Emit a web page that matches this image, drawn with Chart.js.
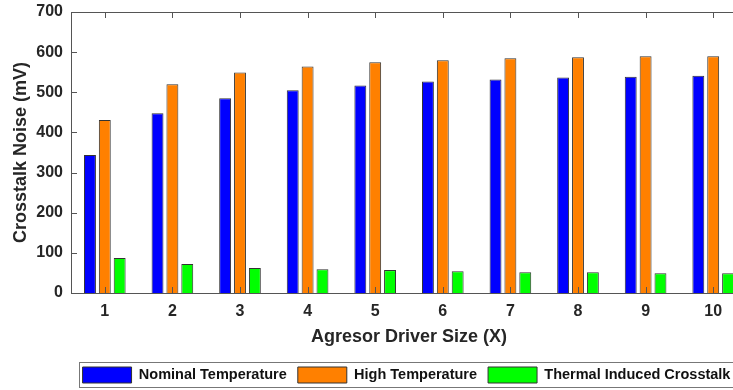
<!DOCTYPE html>
<html>
<head>
<meta charset="utf-8">
<script src="https://cdn.jsdelivr.net/npm/chart.js@4/dist/chart.umd.min.js"></script>
<style>
  html, body { margin: 0; padding: 0; overflow: hidden; background: #fff; }
  #wrap { width: 813px; height: 393px; }
</style>
</head>
<body>
<div id="wrap"><canvas id="chart" width="813" height="393"></canvas></div>
<script>
// driver sizes on the x axis
const driverSizes = ['1', '2', '3', '4', '5', '6', '7', '8', '9', '10'];

// crosstalk noise in mV
const nominalTemp = [344, 448, 485, 505, 517, 527, 532, 537, 539, 541];
const highTemp = [431, 520, 549, 564, 575, 580, 585, 587, 590, 590];
const thermalInduced = [87, 72, 62, 59, 57, 54, 52, 52, 49, 49];

const seriesNames = ['Nominal Temperature', 'High Temperature', 'Thermal Induced Crosstalk'];
const yMin = 0, yMax = 700, yStep = 100;

Chart.defaults.font.family = '"Liberation Sans", Arial, sans-serif';
Chart.defaults.color = '#262626';

const axisColor = '#555';

// matlab style box with inward ticks, drawn over the bars
const boxAxes = {
  id: 'boxAxes',
  afterDatasetsDraw(chart) {
    const {ctx, chartArea: a, scales} = chart;
    ctx.save();
    ctx.strokeStyle = axisColor;
    ctx.lineWidth = 1;
    ctx.strokeRect(a.left + 0.5, a.top + 0.5, a.right - a.left, a.bottom - a.top);
    ctx.beginPath();
    scales.x.ticks.forEach((t, i) => {
      const x = Math.round(scales.x.getPixelForTick(i)) + 0.5;
      ctx.moveTo(x, a.bottom); ctx.lineTo(x, a.bottom - 6);
      ctx.moveTo(x, a.top); ctx.lineTo(x, a.top + 6);
    });
    scales.y.ticks.forEach((t, i) => {
      const y = Math.round(scales.y.getPixelForTick(i)) + 0.5;
      ctx.moveTo(a.left, y); ctx.lineTo(a.left + 6, y);
      ctx.moveTo(a.right, y); ctx.lineTo(a.right - 6, y);
    });
    ctx.stroke();
    ctx.restore();
  },
  afterDraw(chart) {
    const boxes = chart.legend.legendHitBoxes;
    if (!boxes || !boxes.length) return;
    const first = boxes[0], last = boxes[boxes.length - 1];
    const ctx = chart.ctx;
    ctx.save();
    ctx.strokeStyle = '#777';
    ctx.lineWidth = 1;
    const l = Math.round(first.left - 4) + 0.5;
    const t = Math.round(first.top - 5) + 0.5;
    const r = Math.round(last.left + last.width + 4) + 0.5;
    const b = Math.round(first.top + first.height + 4) + 0.5;
    ctx.strokeRect(l, t, r - l, b - t);
    ctx.restore();
  }
};

new Chart(document.getElementById('chart'), {
  type: 'bar',
  data: {
    labels: driverSizes,
    datasets: [
      { label: seriesNames[0], data: nominalTemp, backgroundColor: '#0000ff', borderColor: '#333', borderWidth: 1 },
      { label: seriesNames[1], data: highTemp, backgroundColor: '#ff8000', borderColor: '#333', borderWidth: 1 },
      { label: seriesNames[2], data: thermalInduced, backgroundColor: '#00ff00', borderColor: '#333', borderWidth: 1 }
    ]
  },
  options: {
    responsive: false,
    animation: false,
    devicePixelRatio: 1,
    layout: { padding: { top: 12, left: 0, right: 0, bottom: 0 } },
    datasets: { bar: { categoryPercentage: 0.66, barPercentage: 0.8 } },
    scales: {
      x: {
        grid: { display: false, drawTicks: false },
        border: { display: false },
        ticks: { padding: 9, font: { size: 16, weight: 'bold' } },
        title: {
          display: true,
          text: 'Agresor Driver Size (X)',
          font: { size: 18, weight: 'bold' },
          padding: { top: 0, bottom: 8 }
        },
        afterFit(s) { s.height = 63; }
      },
      y: {
        min: yMin,
        max: yMax,
        grid: { display: false, drawTicks: false },
        border: { display: false },
        ticks: { stepSize: yStep, padding: 8, font: { size: 16, weight: 'bold' } },
        title: {
          display: true,
          text: 'Crosstalk Noise (mV)',
          font: { size: 18, weight: 'bold' },
          padding: { top: 10, bottom: 0 }
        },
        afterFit(s) {
          s.width = 71;
          s.paddingTop = 0;
          s.paddingBottom = 0;
        }
      },
      // spacer so the plot runs past the window edge like the original
      yRight: {
        position: 'right',
        grid: { display: false, drawTicks: false },
        border: { display: false },
        ticks: { display: false },
        afterFit(s) { s.width = 66; }
      }
    },
    plugins: {
      legend: {
        position: 'bottom',
        labels: {
          boxWidth: 49,
          boxHeight: 16,
          padding: 11,
          color: '#111',
          font: { size: 14.5, weight: 'bold' }
        }
      },
      tooltip: { enabled: false }
    }
  },
  plugins: [boxAxes]
});
</script>
</body>
</html>
